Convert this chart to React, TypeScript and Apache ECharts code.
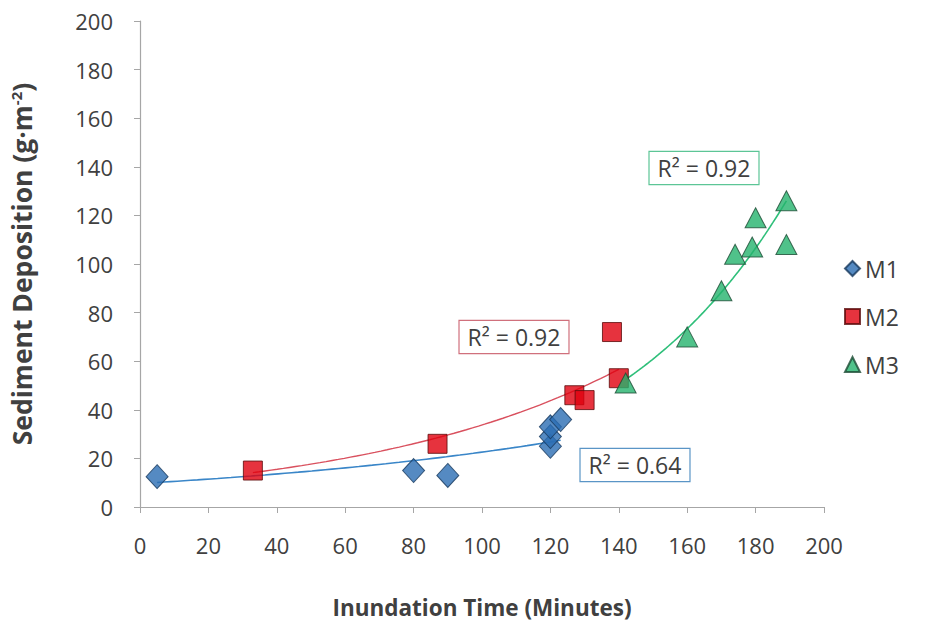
import React, { useEffect, useRef } from "react";
import * as echarts from "echarts";

// Inundation time (minutes) and sediment deposition (g·m-2) per marsh site
const m1X = [5, 80, 90, 120, 120, 120, 123];
const m1Y = [12.5, 15, 13, 25, 29, 33, 36];
const m2X = [33, 87, 127, 130, 138, 140];
const m2Y = [15, 26, 46, 44, 72, 53];
const m3X = [142, 160, 170, 174, 179, 180, 189, 189];
const m3Y = [51, 70, 89, 104, 107, 119, 126, 108];

const seriesNames = ["M1", "M2", "M3"];
const r2Texts = ["R² = 0.64", "R² = 0.92", "R² = 0.92"];
const xTicks = [0, 20, 40, 60, 80, 100, 120, 140, 160, 180, 200];

const FONT = "'Open Sans', 'Noto Sans', sans-serif";
const TEXT = "#404040";

// Least-squares exponential trend (fit on ln y), sampled across the data range
function expTrend(xs: number[], ys: number[], steps = 60): number[][] {
  const n = xs.length;
  const ly = ys.map((v) => Math.log(v));
  const mx = xs.reduce((s, v) => s + v, 0) / n;
  const my = ly.reduce((s, v) => s + v, 0) / n;
  let sxx = 0;
  let sxy = 0;
  for (let i = 0; i < n; i++) {
    sxx += (xs[i] - mx) * (xs[i] - mx);
    sxy += (xs[i] - mx) * (ly[i] - my);
  }
  const b = sxy / sxx;
  const a = Math.exp(my - b * mx);
  const lo = Math.min(...xs);
  const hi = Math.max(...xs);
  const out: number[][] = [];
  for (let k = 0; k <= steps; k++) {
    const x = lo + ((hi - lo) * k) / steps;
    out.push([x, a * Math.exp(b * x)]);
  }
  return out;
}

const zip = (xs: number[], ys: number[]) => xs.map((x, i) => [x, ys[i]]);

export default function App() {
  const ref = useRef<HTMLDivElement>(null);

  useEffect(() => {
    if (!ref.current) return;
    const chart = echarts.init(ref.current, undefined, { renderer: "svg" });

    const box = (text: string, x: number, y: number, border: string) => ({
      type: "text",
      x,
      y,
      z: 100,
      style: {
        text,
        font: `23px ${FONT}`,
        fill: TEXT,
        align: "center",
        verticalAlign: "middle",
        backgroundColor: "#ffffff",
        borderColor: border,
        borderWidth: 1.2,
        padding: [5, 8, 4, 8],
      },
    });

    chart.setOption({
      animation: false,
      backgroundColor: "#ffffff",
      grid: { left: 139, right: 109, top: 21, bottom: 118, containLabel: false },
      legend: {
        data: seriesNames,
        orient: "vertical",
        left: 839,
        top: 252,
        itemGap: 25,
        itemWidth: 15,
        itemHeight: 15,
        textStyle: { fontFamily: FONT, fontSize: 23, color: TEXT, padding: [0, 0, 0, 0] },
      },
      xAxis: {
        type: "value",
        min: 0,
        max: 200,
        interval: 20,
        name: "Inundation Time (Minutes)",
        nameLocation: "middle",
        nameGap: 89,
        nameTextStyle: { fontFamily: FONT, fontSize: 22.5, fontWeight: "bold", color: TEXT },
        axisLine: { lineStyle: { color: "#a6a6a6", width: 1.2 } },
        axisTick: { show: true, length: 6, lineStyle: { color: "#a6a6a6" } },
        axisLabel: {
          margin: 27,
          fontFamily: FONT,
          fontSize: 22,
          color: TEXT,
          formatter: (v: number) => (xTicks.includes(v) ? String(v) : ""),
        },
        splitLine: { show: false },
      },
      yAxis: {
        type: "value",
        min: 0,
        max: 200,
        interval: 20,
        name: "Sediment Deposition (g·m{sup|-2})",
        nameLocation: "middle",
        nameGap: 105,
        nameRotate: 90,
        nameTextStyle: {
          fontFamily: FONT,
          fontSize: 26.5,
          fontWeight: "bold",
          color: TEXT,
          rich: {
            sup: {
              fontFamily: FONT,
              fontSize: 15,
              fontWeight: "bold",
              color: TEXT,
              verticalAlign: "top",
              padding: [0, 0, 12, 0],
            },
          },
        },
        axisLine: { show: true, lineStyle: { color: "#a6a6a6", width: 1.2 } },
        axisTick: { show: true, length: 6, lineStyle: { color: "#a6a6a6" } },
        axisLabel: { margin: 27, fontFamily: FONT, fontSize: 22, color: TEXT },
        splitLine: { show: false },
      },
      series: [
        {
          name: "M1 trend",
          type: "line",
          data: expTrend(m1X, m1Y),
          showSymbol: false,
          silent: true,
          lineStyle: { color: "#3a86c8", width: 1.6 },
          z: 2,
        },
        {
          name: "M2 trend",
          type: "line",
          data: expTrend(m2X, m2Y),
          showSymbol: false,
          silent: true,
          lineStyle: { color: "#d9505e", width: 1.4 },
          z: 2,
        },
        {
          name: "M3 trend",
          type: "line",
          data: expTrend(m3X, m3Y),
          showSymbol: false,
          silent: true,
          lineStyle: { color: "#2fbf7a", width: 1.6 },
          z: 2,
        },
        {
          name: "M1",
          type: "scatter",
          data: zip(m1X, m1Y),
          symbol: "diamond",
          symbolSize: [22, 24],
          itemStyle: { color: "#2a6db3", borderColor: "#17385c", borderWidth: 1 },
          z: 3,
        },
        {
          name: "M2",
          type: "scatter",
          data: zip(m2X, m2Y),
          symbol: "rect",
          symbolSize: 19,
          itemStyle: { color: "#e0000e", borderColor: "#5a0a0a", borderWidth: 1 },
          z: 4,
        },
        {
          name: "M3",
          type: "scatter",
          data: zip(m3X, m3Y),
          symbol: "triangle",
          symbolSize: [21, 20],
          itemStyle: { color: "#24b36d", borderColor: "#1b4a33", borderWidth: 1 },
          z: 5,
        },
      ],
      graphic: [
        box(r2Texts[1], 514, 337, "#d0707c"),
        box(r2Texts[0], 635, 465, "#5a95c6"),
        box(r2Texts[2], 704, 168, "#5cc596"),
      ],
    });

    return () => chart.dispose();
  }, []);

  return (
    <div
      ref={ref}
      style={{ position: "fixed", left: 0, top: 0, width: 933, height: 625 }}
    />
  );
}
